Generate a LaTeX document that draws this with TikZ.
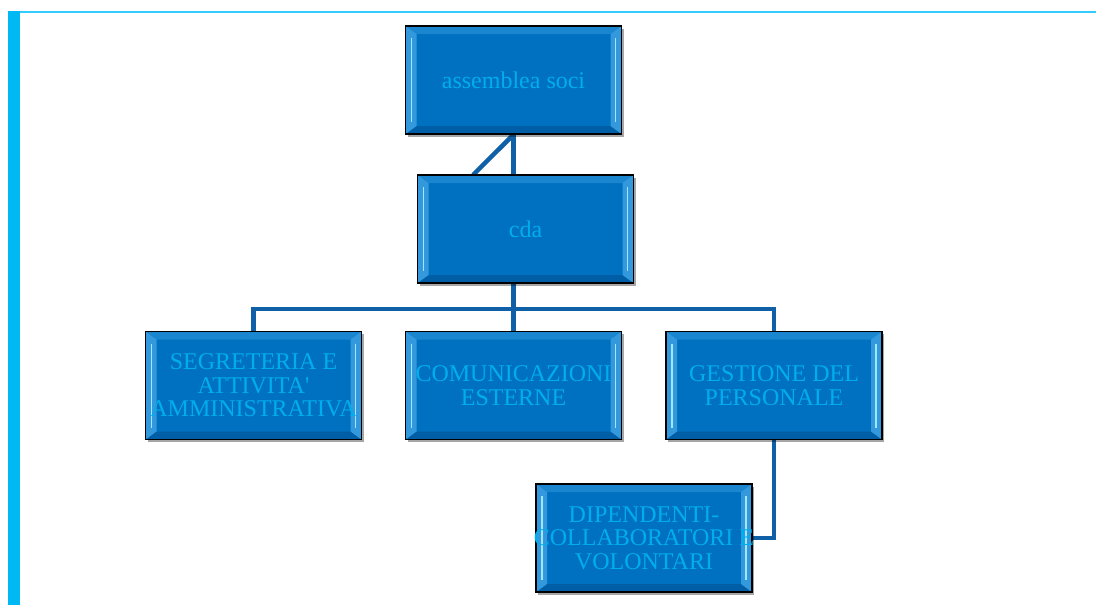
\documentclass[tikz,border=0pt]{standalone}
\usepackage{fontspec}
\setmainfont{Liberation Serif}[Ligatures=TeXOff]
\usetikzlibrary{shadows}
\pgfdeclarelayer{bg}
\pgfdeclarelayer{links}
\pgfsetlayers{bg,links,main}
\definecolor{cyanbar}{HTML}{00B8F4}
\definecolor{cyanline}{HTML}{33CCFF}
\definecolor{boxblue}{HTML}{0070C0}
\definecolor{bevtop}{HTML}{1A86CF}
\definecolor{bevside}{HTML}{3399DC}
\definecolor{bevbot}{HTML}{005EA6}
\definecolor{bevhi}{HTML}{9FE6FF}
\definecolor{txtblue}{HTML}{00AEEF}
\definecolor{connblue}{HTML}{1060A8}
\tikzset{
  orgbox/.style={draw=black, line width=1.2pt, fill=boxblue, text=txtblue,
    minimum width=216pt, minimum height=108pt, inner xsep=-20pt, inner ysep=0pt, align=center,
    font=\fontsize{24}{23.5}\selectfont,
    drop shadow={shadow xshift=2pt, shadow yshift=-2.5pt, opacity=0.35, fill=black},
    path picture={
      \fill[bevtop] (path picture bounding box.north west) -- (path picture bounding box.north east)
        -- ([shift={(-11pt,-8pt)}]path picture bounding box.north east) -- ([shift={(11pt,-8pt)}]path picture bounding box.north west) -- cycle;
      \fill[bevbot] (path picture bounding box.south west) -- (path picture bounding box.south east)
        -- ([shift={(-11pt,8pt)}]path picture bounding box.south east) -- ([shift={(11pt,8pt)}]path picture bounding box.south west) -- cycle;
      \fill[bevside] (path picture bounding box.north west) -- ([shift={(11pt,-8pt)}]path picture bounding box.north west)
        -- ([shift={(11pt,8pt)}]path picture bounding box.south west) -- (path picture bounding box.south west) -- cycle;
      \fill[bevside] (path picture bounding box.north east) -- ([shift={(-11pt,-8pt)}]path picture bounding box.north east)
        -- ([shift={(-11pt,8pt)}]path picture bounding box.south east) -- (path picture bounding box.south east) -- cycle;
      \draw[bevhi, line width=1.5pt] ([shift={(6pt,-12pt)}]path picture bounding box.north west) -- ([shift={(6pt,12pt)}]path picture bounding box.south west);
      \draw[bevhi, line width=1.5pt] ([shift={(-6pt,-12pt)}]path picture bounding box.north east) -- ([shift={(-6pt,12pt)}]path picture bounding box.south east);
    }},
  conn/.style={draw=connblue, line width=4.5pt}
}
\begin{document}
\begin{tikzpicture}[x=1pt,y=1pt]
\begin{pgfonlayer}{bg}
\fill[white] (0,0) rectangle (1096,-605);
\fill[cyanline] (10,-11) rectangle (1096,-13);
\fill[cyanbar] (8,-11) rectangle (20,-605);
\end{pgfonlayer}
\useasboundingbox (0,0) rectangle (1096,-605);
\node[orgbox] (ass) at (513.5,-80) {assemblea soci};
\node[orgbox] (cda) at (525.5,-229) {cda};
\node[orgbox] (seg) at (253.5,-385.5) {SEGRETERIA E\\ATTIVITA'\\AMMINISTRATIVA};
\node[orgbox] (com) at (513.5,-385.5) {COMUNICAZIONI\\ESTERNE};
\node[orgbox] (ges) at (774,-385.5) {GESTIONE DEL\\PERSONALE};
\node[orgbox] (dip) at (644,-538) {DIPENDENTI-\\COLLABORATORI E\\VOLONTARI};
\coordinate (d1) at (473,-175);
\coordinate (bus) at (0,-309);
\begin{pgfonlayer}{links}
\draw[conn] (ass.south) -- (ass.south |- cda.north);
\draw[conn] (ass.south) -- (d1);
\draw[conn] (com.north |- cda.south) -- (com.north);
\draw[conn] (seg.north) -- (seg.north |- bus) -- (ges.north |- bus) -- (ges.north);
\draw[conn] (ges.south) |- (dip.east);
\end{pgfonlayer}
\end{tikzpicture}
\end{document}
